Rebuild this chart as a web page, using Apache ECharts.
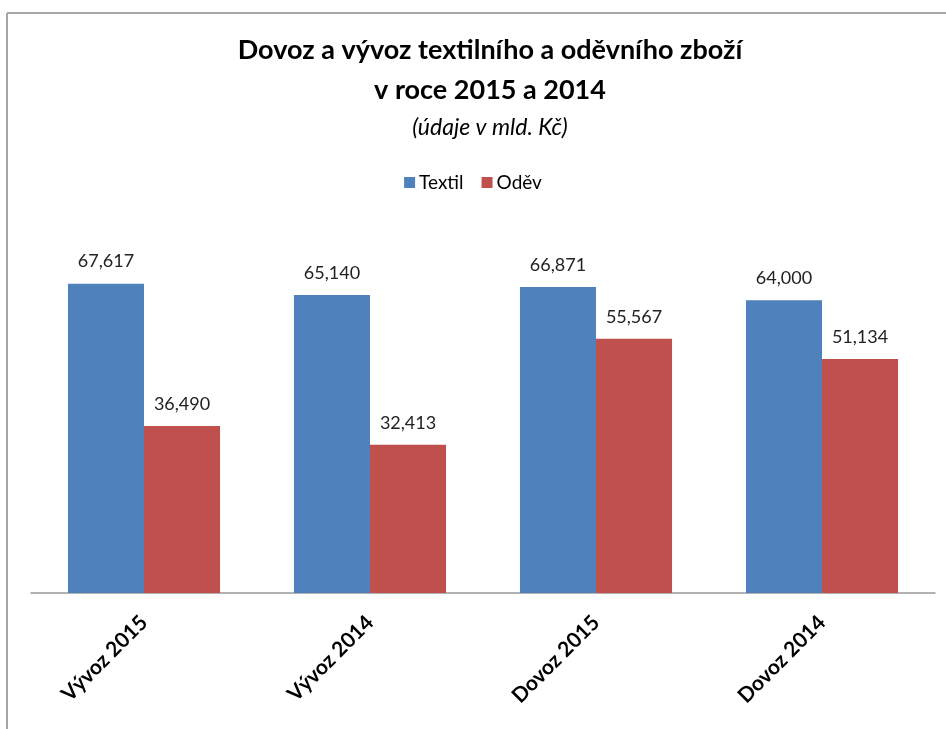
<!DOCTYPE html>
<html>
<head>
<meta charset="utf-8">
<script src="https://cdn.jsdelivr.net/npm/echarts@6/dist/echarts.min.js"></script>
<style>
html,body{margin:0;padding:0;background:#fff;}
#chart{width:946px;height:729px;}
</style>
</head>
<body>
<div id="chart"></div>
<script>
const categories = ['Vývoz 2015', 'Vývoz 2014', 'Dovoz 2015', 'Dovoz 2014'];
const textil = [67.617, 65.140, 66.871, 64.000];
const odev = [36.490, 32.413, 55.567, 51.134];
const seriesNames = ['Textil', 'Oděv'];

const FONT = 'Lato, "Open Sans", sans-serif';
const chart = echarts.init(document.getElementById('chart'));
const fmt = p => p.value.toFixed(3).replace('.', ',');

chart.setOption({
  backgroundColor: '#fff',
  textStyle: { fontFamily: FONT },
  title: [
    {
      text: 'Dovoz a vývoz textilního a oděvního zboží\nv roce 2015 a 2014',
      left: 485, top: 25, textAlign: 'center',
      textStyle: { fontFamily: FONT, fontSize: 27, fontWeight: 'bold', color: '#000', lineHeight: 40 }
    },
    {
      text: '(údaje v mld. Kč)',
      left: 485, top: 111, textAlign: 'center',
      textStyle: { fontFamily: FONT, fontSize: 23, fontWeight: 'normal', fontStyle: 'italic', color: '#000' }
    }
  ],
  legend: {
    data: seriesNames,
    top: 168, left: 'center',
    icon: 'rect', itemWidth: 11, itemHeight: 11, itemGap: 18,
    textStyle: { fontFamily: FONT, fontSize: 19, color: '#000', padding: [0, 0, 0, -1] }
  },
  grid: { left: 31, right: 11, top: 227, bottom: 136, containLabel: false },
  xAxis: {
    type: 'category',
    data: categories,
    axisTick: { show: false },
    axisLine: { lineStyle: { color: '#999', width: 1.5 } },
    axisLabel: { rotate: 45, fontFamily: FONT, fontSize: 21, fontWeight: 'bold', color: '#000', margin: 26, interval: 0 }
  },
  yAxis: {
    type: 'value', min: 0, max: 80, show: false,
    splitLine: { show: false }
  },
  series: [
    {
      name: seriesNames[0], type: 'bar', data: textil,
      barGap: 0, barCategoryGap: '32.7%',
      itemStyle: { color: '#4F81BD' },
      label: { show: true, position: 'top', distance: 13, formatter: fmt, fontFamily: FONT, fontSize: 18, color: '#222' }
    },
    {
      name: seriesNames[1], type: 'bar', data: odev,
      itemStyle: { color: '#C0504D' },
      label: { show: true, position: 'top', distance: 13, formatter: fmt, fontFamily: FONT, fontSize: 18, color: '#222' }
    }
  ],
  graphic: [
    { type: 'line', shape: { x1: 7, y1: 13, x2: 946, y2: 13 }, style: { stroke: '#a6a6a6', lineWidth: 2 }, silent: true },
    { type: 'line', shape: { x1: 7, y1: 13, x2: 7, y2: 729 }, style: { stroke: '#a6a6a6', lineWidth: 2 }, silent: true }
  ]
});
</script>
</body>
</html>
